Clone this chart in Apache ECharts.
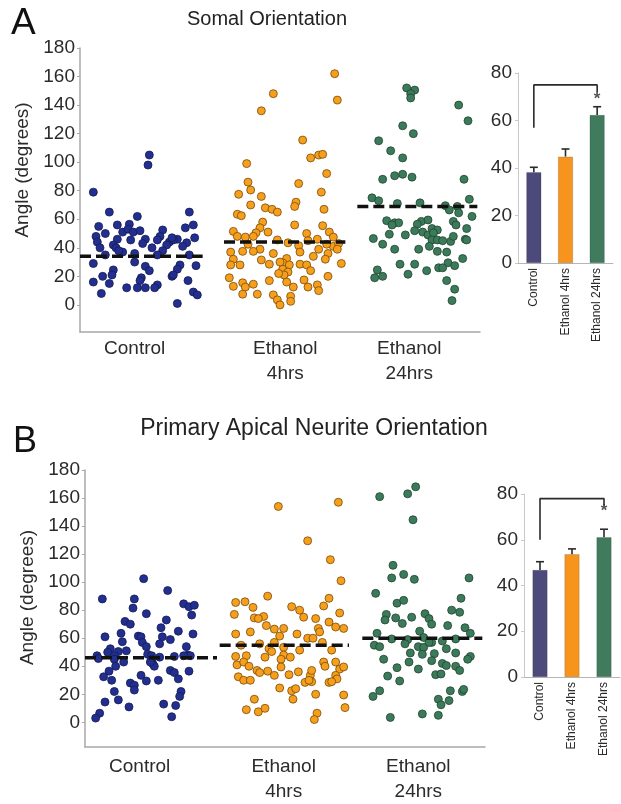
<!DOCTYPE html>
<html>
<head>
<meta charset="utf-8">
<script src="https://cdn.jsdelivr.net/npm/echarts@6/dist/echarts.min.js"></script>
<style>
html, body { margin: 0; padding: 0; background: #fff; }
#chart { width: 621px; height: 804px; }
</style>
</head>
<body>
<div id="chart"></div>
<script>
var groups = ['Control', 'Ethanol\n4hrs', 'Ethanol\n24hrs'];
var barGroups = ['Control', 'Ethanol 4hrs', 'Ethanol 24hrs'];
var angleTicks = [0, 20, 40, 60, 80, 100, 120, 140, 160, 180];

// each point: [horizontal jitter inside its group, angle in degrees]
var somalControl = [[-0.40,79],[0.02,105],[0.01,98],[-0.28,65],[-0.07,62],[0.32,65],[-0.36,55],[-0.22,56],[-0.13,56.5],[0.35,56],
  [0.29,54],[-0.38,48],[-0.31,50],[-0.18,51],[-0.14,53],[-0.10,51],[-0.05,52],[0.12,52.5],[0.36,47],[-0.22,46],
  [-0.12,45.5],[-0.01,46],[0.10,48],[0.23,46],[-0.37,44],[-0.25,42],[-0.03,43],[0.17,44],[0.30,43.5],[-0.35,40],
  [-0.23,40],[0.08,45.5],[0.15,42],[0.20,45.5],[-0.18,37],[0.04,40],[0.12,38],[0.27,41],[-0.31,35],[-0.09,36],
  [0.08,35],[0.32,35],[-0.40,29],[-0.01,27],[0.25,28],[0.37,27.5],[-0.25,24.5],[0.02,24],[0.23,25],[-0.33,20],
  [-0.26,21],[-0.04,19],[0.19,20],[0.20,21],[-0.40,16],[-0.28,15],[-0.05,17],[0.31,17],[0.08,14],[-0.15,12],
  [-0.07,12],[-0.01,12],[0.06,12],[-0.34,8],[0.35,9],[0.38,7],[0.23,1],[-0.09,30],[-0.21,38],[0.19,47]];
var somal4h = [[0.41,162],[-0.05,148],[0.43,143.5],[-0.14,136],[0.17,115.5],[0.23,103],[0.29,105],[0.32,105.5],[-0.25,99],[0.35,92],
  [-0.24,86],[0.14,85],[-0.22,80.5],[-0.31,77.5],[-0.14,76],[0.31,79],[0.12,72],[-0.22,70],[-0.11,68],[-0.06,67],
  [-0.02,65],[-0.32,63.5],[-0.29,62.5],[0.11,69],[0.33,67],[-0.13,58],[0.11,56],[0.32,55.5],[-0.15,54],[-0.35,51.5],
  [-0.09,51],[0.37,51],[-0.18,50.5],[0.20,50],[-0.32,48],[-0.26,47.5],[-0.20,48],[0.40,47.5],[0.28,46],[-0.02,45.5],
  [0.21,45],[-0.24,42.5],[0.06,43.5],[0.14,41.5],[0.40,41],[0.35,42.5],[0.44,43],[-0.15,39],[-0.28,37.5],[-0.37,37],
  [-0.20,37.5],[0.15,37],[0.29,39],[0.43,39],[-0.05,36],[0.36,36],[-0.35,32],[0.05,32.5],[0.25,34],[-0.14,31.5],
  [0.34,32],[-0.08,28.5],[-0.37,28],[-0.30,28],[0.02,29.5],[0.07,28],[0.15,28.5],[0.20,28],[0.46,29],[0.02,25],
  [0.23,24],[0.06,23],[0.03,21],[-0.38,19],[0.36,20],[-0.08,17],[0.05,16],[-0.28,15.5],[0.18,17.5],[0.28,14],
  [-0.35,13],[-0.20,14.5],[0.10,12.5],[0.21,12.5],[-0.26,12.5],[0.29,10],[-0.28,7.5],[-0.17,7.5],[-0.05,7],[0.08,6],
  [-0.02,3.5],[0.00,0],[0.08,2.5],[0.00,30],[-0.01,22]];
var somal24h = [[-0.05,152],[0.01,150.5],[-0.02,148],[-0.02,145],[0.34,140],[0.41,129],[-0.08,125.5],[0.00,120],[-0.26,115],[-0.17,108],
  [-0.08,103],[-0.14,90.5],[-0.08,91.5],[-0.01,89.5],[-0.23,88],[0.38,88],[-0.31,75],[0.42,74],[-0.26,73],[0.05,71.5],
  [-0.12,71],[0.24,69.5],[0.33,69],[0.34,64.5],[0.27,66.5],[-0.20,59],[-0.14,57.5],[-0.11,57.5],[0.06,58.5],[0.11,59.5],
  [0.30,58.5],[0.44,62],[-0.16,56],[0.03,56.5],[0.14,53.5],[0.32,56],[0.18,52.5],[0.40,53.5],[0.01,52],[0.07,51],
  [-0.06,49],[0.11,49],[0.15,50.5],[-0.30,46.5],[-0.18,49.5],[0.14,45.5],[0.18,45.5],[0.22,45],[0.28,44.5],[0.39,46],
  [0.30,48],[0.40,45.5],[-0.23,42.5],[0.12,41],[-0.14,39],[0.04,39],[0.18,37.5],[0.25,37],[0.37,32.5],[-0.10,28.5],
  [0.01,28.5],[0.19,26],[0.26,29.5],[0.31,27.5],[-0.27,24.5],[-0.04,21.5],[0.10,24],[-0.29,19],[-0.23,20],[0.25,17],
  [0.31,11],[0.29,3],[0.22,26]];

var neuriteControl = [[-0.06,102.5],[0.12,94],[-0.37,88],[-0.13,88],[0.24,84.5],[0.28,82.5],[0.32,83.5],[-0.14,81.5],[-0.04,77.5],[0.30,76.5],
  [-0.20,72],[-0.16,70],[0.11,73],[0.07,67.5],[0.20,65],[-0.35,61],[-0.23,63.5],[-0.10,61.5],[-0.08,61],[0.08,61],
  [0.14,59],[0.31,63],[-0.22,57.5],[-0.07,57],[-0.04,54],[0.06,56],[0.26,54],[-0.31,52.5],[-0.33,50],[-0.25,50.5],
  [-0.19,51],[-0.03,48.5],[0.27,48],[-0.41,47.5],[-0.28,47.5],[0.00,47.5],[0.29,47.5],[-0.40,45.5],[-0.28,45],[0.00,45],
  [0.06,46.5],[0.17,47],[0.24,47.5],[-0.21,43],[-0.27,40],[0.01,41.5],[0.02,40],[-0.32,36.5],[0.14,37],[0.17,35.5],
  [0.28,36.5],[-0.36,32.5],[-0.30,30],[-0.08,33.5],[-0.04,29.5],[0.05,30],[-0.16,28],[-0.13,26.5],[0.20,31],[-0.13,23],
  [-0.28,22],[0.22,22],[0.21,18.5],[-0.25,16],[-0.35,14.5],[0.09,13],[0.18,12],[-0.17,11],[-0.39,6.5],[-0.42,3],
  [0.15,4],[-0.01,43]];
var neurite4h = [[-0.05,154],[0.40,157],[0.17,129.5],[0.34,116],[0.42,101],[-0.13,90],[0.33,88.5],[-0.37,85.5],[-0.30,86],[-0.24,82],
  [0.05,82.5],[0.11,80],[0.29,83],[0.41,78],[-0.38,77],[-0.23,74.5],[-0.16,75.5],[0.14,75],[0.23,74],[0.33,71.5],
  [-0.20,74],[-0.14,69],[-0.01,67],[-0.08,66.5],[0.25,67],[0.38,68],[0.44,67],[-0.26,64.5],[-0.37,63],[0.09,63],
  [0.26,64.5],[-0.04,61.5],[0.17,60],[0.21,60],[-0.08,57],[0.28,57],[-0.33,55],[-0.19,56],[-0.12,52.5],[0.35,51.5],
  [-0.01,53.5],[0.11,51.5],[-0.37,47],[-0.29,47.5],[-0.15,46.5],[-0.01,48],[0.04,46.5],[-0.03,45],[-0.10,50.5],[-0.36,41],
  [-0.31,43],[-0.27,40],[-0.21,37],[-0.13,36.5],[-0.03,39.5],[0.03,34],[0.29,43],[0.30,40],[0.41,38],[0.44,39.5],
  [-0.19,35.5],[-0.08,33.5],[0.10,36],[0.19,33.5],[0.20,37],[0.38,33.5],[-0.35,32.5],[-0.31,30],[-0.26,30],[0.15,28.5],
  [0.20,29],[0.33,28.5],[0.39,31],[-0.04,24.5],[0.05,22.5],[0.08,24],[0.06,16.5],[0.23,20],[0.35,29],[0.44,19.5],
  [-0.23,16.5],[-0.29,9],[-0.20,7.5],[-0.15,10],[0.24,6.5],[0.22,2],[0.45,10.5],[0.38,43],[0.18,30]];
var neurite24h = [[-0.29,161],[-0.08,163],[-0.02,168],[-0.04,144.5],[-0.19,112],[-0.20,103],[-0.11,105.5],[-0.03,102],[0.38,103],[-0.32,92],
  [0.32,88.5],[-0.16,85],[-0.11,87],[0.25,80],[0.31,78.5],[-0.24,77],[-0.17,74.5],[-0.05,75],[0.05,77.5],[0.08,74],
  [-0.25,73],[-0.12,70.5],[0.10,70],[0.22,69],[0.35,67.5],[-0.31,63.5],[0.01,65],[0.39,63.5],[-0.20,59.5],[-0.08,59],
  [0.04,60.5],[0.10,57],[0.18,58],[0.28,59.5],[-0.33,55],[-0.29,54],[-0.10,56],[0.00,54],[0.04,53.5],[0.21,52.5],
  [-0.26,45],[-0.06,49.5],[0.03,48.5],[0.12,49],[0.28,49.5],[0.39,47],[0.37,45],[-0.07,43],[0.10,44],[0.18,42],
  [0.21,40.5],[-0.16,39],[0.00,38],[0.28,40],[0.31,37],[-0.23,33],[0.13,34],[0.17,34.5],[-0.14,29.5],[0.24,22.5],
  [0.33,22],[0.34,23.5],[-0.29,22.5],[-0.34,18.5],[0.15,16.5],[0.17,12.5],[0.23,15.5],[-0.21,3.5],[0.03,6],[0.15,5],
  [0.08,57]];

// dashed group lines
var somalMedian = [34, 44, 69];
var neuriteMedian = [46, 55, 60];
// bar insets: mean and upper error
var somalMean = [38.2, 44.8, 62.3];
var somalErr = [2.1, 3.2, 3.5];
var neuriteMean = [46.8, 53.7, 61.1];
var neuriteErr = [3.6, 2.3, 3.5];
var somalBracket = [[0, 57], [0, 75], [2, 75], [2, 72]];
var neuriteBracket = [[0, 60], [0, 78], [2, 78], [2, 75]];
var somalStar = [[2, 69]];
var neuriteStar = [[2, 72.5]];

var font = 'Liberation Sans, Arial, Helvetica, sans-serif';
var dotColors = ['#232f8f', '#f59f1c', '#3b7b5b'];
var dotBorders = ['#141a55', '#7a4a0a', '#22442f'];
var barColors = ['#4b4a7a', '#f7941d', '#3f7b5c'];

var myChart = echarts.init(document.getElementById('chart'));

function place(points, g) {
  return points.map(function (p) { return [g + p[0], p[1]]; });
}

function scatterSeries(points, g, idx) {
  return {
    type: 'scatter', xAxisIndex: idx, yAxisIndex: idx,
    data: place(points, g), symbolSize: 8,
    itemStyle: { color: dotColors[g], borderColor: dotBorders[g], borderWidth: 0.8, opacity: 1 },
    z: 2
  };
}

function medianLine(value, g, span, idx) {
  return {
    type: 'line', xAxisIndex: idx, yAxisIndex: idx, symbol: 'none', silent: true,
    data: [[g + span[0], value], [g + span[1], value]],
    lineStyle: { color: '#111', width: 3.5, type: [11, 5] },
    z: 5
  };
}

function errorBar(params, api) {
  var base = api.coord([api.value(0), api.value(1)]);
  var top = api.coord([api.value(0), api.value(2)]);
  var st = { stroke: '#2a2a2a', lineWidth: 1.6 };
  return {
    type: 'group',
    children: [
      { type: 'line', shape: { x1: base[0], y1: base[1], x2: top[0], y2: top[1] }, style: st },
      { type: 'line', shape: { x1: top[0] - 4, y1: top[1], x2: top[0] + 4, y2: top[1] }, style: st }
    ]
  };
}

function scatterX(grid, labelAt, margin) {
  return {
    type: 'value', gridIndex: grid, min: -0.5, max: 2.5,
    axisLine: { onZero: false, lineStyle: { color: '#a8a8a8', width: 1.5 } },
    axisTick: { show: false }, splitLine: { show: false },
    axisLabel: {
      customValues: labelAt, margin: margin, color: '#2b2b2b', fontFamily: font, fontSize: 19, lineHeight: 25,
      formatter: function (v) { return groups[Math.round(v)]; }
    }
  };
}

function scatterY(grid, min, namePad) {
  return {
    type: 'value', gridIndex: grid, min: min, max: 180,
    name: 'Angle (degrees)', nameLocation: 'middle', nameGap: 44,
    nameTextStyle: { fontFamily: font, fontSize: 19, color: '#2b2b2b', padding: namePad },
    axisLine: { show: true, onZero: false, lineStyle: { color: '#a8a8a8', width: 1.5 } },
    axisTick: { show: true, customValues: angleTicks, length: 3, lineStyle: { color: '#a8a8a8' } },
    splitLine: { show: false },
    axisLabel: { customValues: angleTicks, margin: 5, color: '#2b2b2b', fontFamily: font, fontSize: 19 }
  };
}

function barX(grid) {
  return {
    type: 'category', gridIndex: grid, data: barGroups,
    axisLine: { lineStyle: { color: '#b5b5b5', width: 1 } },
    axisTick: { show: false },
    axisLabel: { rotate: 90, interval: 0, margin: 5, color: '#2b2b2b', fontFamily: font, fontSize: 12 }
  };
}

function barY(grid) {
  return {
    type: 'value', gridIndex: grid, min: 0, max: 80, interval: 20,
    axisLine: { show: true, lineStyle: { color: '#c8c8c8', width: 1 } },
    axisTick: { show: true, length: 3, lineStyle: { color: '#c8c8c8' } },
    splitLine: { show: false },
    axisLabel: { margin: 6, color: '#2b2b2b', fontFamily: font, fontSize: 19 }
  };
}

function barSeries(means, idx) {
  return {
    type: 'bar', xAxisIndex: idx, yAxisIndex: idx, barWidth: 15,
    data: means.map(function (m, i) {
      return { value: m, itemStyle: { color: barColors[i], borderColor: 'rgba(0,0,0,0.25)', borderWidth: 0.6 } };
    })
  };
}

function errSeries(means, errs, idx) {
  return {
    type: 'custom', xAxisIndex: idx, yAxisIndex: idx, renderItem: errorBar, z: 4,
    data: means.map(function (m, i) { return [i, m, m + errs[i]]; })
  };
}

function bracketSeries(pts, idx) {
  return {
    type: 'line', xAxisIndex: idx, yAxisIndex: idx, data: pts, symbol: 'none', silent: true,
    lineStyle: { color: '#2a2a2a', width: 1.6 }
  };
}

function starSeries(pts, idx) {
  return {
    type: 'scatter', xAxisIndex: idx, yAxisIndex: idx, data: pts, symbolSize: 1,
    itemStyle: { color: 'transparent' },
    label: { show: true, position: 'inside', formatter: '*', fontSize: 17, fontWeight: 'bold', color: '#2a2a2a', fontFamily: font }
  };
}

var somalSpans = [[-0.5, 0.42], [-0.42, 0.49], [-0.42, 0.48]];
var neuriteSpans = [[-0.5, 0.49], [-0.49, 0.48], [-0.42, 0.48]];

var series = [
  scatterSeries(somalControl, 0, 0), scatterSeries(somal4h, 1, 0), scatterSeries(somal24h, 2, 0),
  scatterSeries(neuriteControl, 0, 2), scatterSeries(neurite4h, 1, 2), scatterSeries(neurite24h, 2, 2),
  barSeries(somalMean, 1), errSeries(somalMean, somalErr, 1), bracketSeries(somalBracket, 1), starSeries(somalStar, 1),
  barSeries(neuriteMean, 3), errSeries(neuriteMean, neuriteErr, 3), bracketSeries(neuriteBracket, 3), starSeries(neuriteStar, 3)
];
somalMedian.forEach(function (v, g) { series.push(medianLine(v, g, somalSpans[g], 0)); });
neuriteMedian.forEach(function (v, g) { series.push(medianLine(v, g, neuriteSpans[g], 2)); });

var option = {
  backgroundColor: '#ffffff',
  animation: false,
  grid: [
    { left: 80, top: 48, width: 400, height: 284 },
    { left: 518, top: 73, width: 95, height: 190 },
    { left: 85, top: 470, width: 400, height: 281 },
    { left: 524, top: 494, width: 96, height: 183 }
  ],
  xAxis: [scatterX(0, [-0.09, 1.04, 1.97], 4), barX(1), scatterX(2, [-0.09, 0.99, 2.0], 7), barX(3)],
  yAxis: [scatterY(0, -19, [0, 0, 0, 40]), barY(1), scatterY(2, -17.6, [0, 0, 0, 22]), barY(3)],
  graphic: [
    { type: 'text', x: 11, y: 24, style: { text: 'A', font: '37px ' + font, fill: '#111', textAlign: 'left', textVerticalAlign: 'middle' } },
    { type: 'text', x: 267, y: 19, style: { text: 'Somal Orientation', font: '20px ' + font, fill: '#222', textAlign: 'center', textVerticalAlign: 'middle' } },
    { type: 'text', x: 13, y: 442, style: { text: 'B', font: '36px ' + font, fill: '#111', textAlign: 'left', textVerticalAlign: 'middle' } },
    { type: 'text', x: 314, y: 429, style: { text: 'Primary Apical Neurite Orientation', font: '23px ' + font, fill: '#222', textAlign: 'center', textVerticalAlign: 'middle' } }
  ],
  series: series
};
myChart.setOption(option);
</script>
</body>
</html>
